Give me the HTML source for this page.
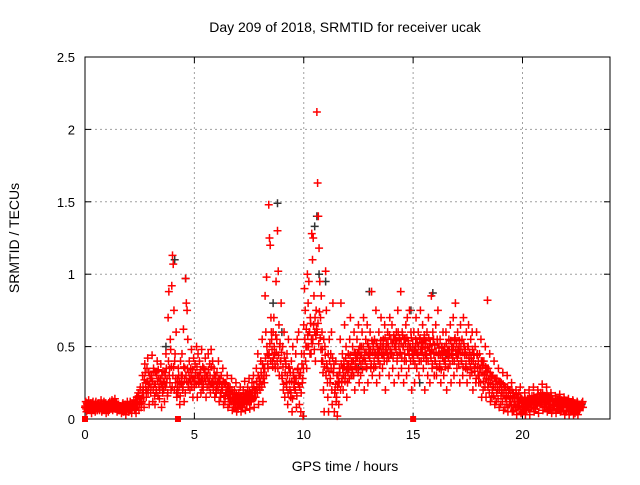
<!DOCTYPE html>
<html><head><meta charset="utf-8"><style>
body{margin:0;background:#fff;}
svg{font-family:"Liberation Sans",sans-serif;}
</style></head><body>
<svg id="chart" width="640" height="480" viewBox="0 0 640 480" xmlns="http://www.w3.org/2000/svg">
<rect width="640" height="480" fill="#fff"/>
<g id="grid"></g>
<g id="axes"></g>
<g id="marks"></g>
<text x="345" y="32" font-size="14" text-anchor="middle">Day 209 of 2018, SRMTID for receiver ucak</text>
<text x="345" y="471" font-size="14" text-anchor="middle">GPS time / hours</text>
<text x="0" y="0" font-size="14" text-anchor="middle" transform="translate(19,238) rotate(-90)">SRMTID / TECUs</text>
</svg>
<script>
const xTicks=[0,5,10,15,20];
const yTicks=[0,0.5,1,1.5,2,2.5];
const yTickLabels=["0","0.5","1","1.5","2","2.5"];
const binHours=[0,0.2,0.4,0.6,0.8,1.0,1.2,1.4,1.6,1.8,2.0,2.2,2.4,2.6,2.8,3.0,3.2,3.4,3.6,3.8,4.0,4.2,4.4,4.6,4.8,5.0,5.2,5.4,5.6,5.8,6.0,6.2,6.4,6.6,6.8,7.0,7.2,7.4,7.6,7.8,8.0,8.2,8.4,8.6,8.8,9.0,9.2,9.4,9.6,9.8,10.0,10.2,10.4,10.6,10.8,11.0,11.2,11.4,11.6,11.8,12.0,12.2,12.4,12.6,12.8,13.0,13.2,13.4,13.6,13.8,14.0,14.2,14.4,14.6,14.8,15.0,15.2,15.4,15.6,15.8,16.0,16.2,16.4,16.6,16.8,17.0,17.2,17.4,17.6,17.8,18.0,18.2,18.4,18.6,18.8,19.0,19.2,19.4,19.6,19.8,20.0,20.2,20.4,20.6,20.8,21.0,21.2,21.4,21.6,21.8,22.0,22.2,22.4,22.6];
const redValues=[
[.08,.12,.05,.10,.07,.13],[.09,.06,.11,.04,.08,.12],[.07,.10,.05,.12,.09,.06],[.08,.11,.06,.09,.13,.05],[.06,.09,.12,.07,.10,.04],
[.07,.10,.05,.09,.12,.08],[.09,.13,.06,.11,.08,.14],[.08,.11,.05,.07,.10,.06],[.06,.09,.04,.08,.11,.05],[.07,.10,.03,.06,.12,.08],
[.05,.09,.12,.07,.04,.10],[.08,.13,.06,.10,.04,.15],[.10,.18,.06,.14,.22,.08],[.12,.30,.20,.08,.38,.25],[.15,.35,.42,.22,.10,.30],
[.18,.28,.44,.12,.35,.24],[.10,.32,.20,.40,.16,.28],[.14,.26,.38,.08,.22,.33],[.20,.12,.30,.45,.25,.16],[.70,.88,.35,.55,.20,.92],
[1.13,1.07,.75,.40,.25,.60],[.15,.28,.35,.22,.10,.40],[.30,.45,.20,.62,.12,.35],[.97,.80,.75,.55,.25,.40],[.20,.35,.48,.28,.15,.42],
[.22,.38,.30,.50,.15,.45],[.25,.40,.32,.18,.48,.28],[.20,.35,.28,.42,.15,.30],[.30,.45,.22,.38,.18,.48],[.25,.40,.20,.35,.15,.30],
[.18,.32,.25,.40,.12,.28],[.15,.30,.22,.35,.10,.25],[.12,.25,.18,.30,.08,.22],[.10,.22,.15,.28,.06,.18],[.08,.20,.14,.25,.05,.16],
[.07,.18,.12,.22,.05,.15],[.08,.20,.14,.26,.06,.17],[.10,.22,.15,.28,.07,.18],[.12,.25,.18,.30,.08,.20],[.15,.35,.22,.45,.10,.28],
[.20,.40,.30,.55,.12,.35],[.25,.85,.60,.98,.45,.35],[1.48,1.25,1.20,.70,.55,.40],[.60,.70,.45,.35,.95,.55],[1.30,1.02,.65,.50,.40,.80],
[.30,.50,.20,.60,.15,.40],[.25,.45,.10,.55,.35,.20],[.15,.40,.05,.50,.30,.25],[.20,.45,.08,.55,.35,.60],[.10,.30,.05,.45,.25,.02],
[.65,.90,.75,.50,.35,1.00],[.80,.95,.60,.70,.45,1.28],[1.10,1.25,.85,.60,.40,.75],[2.12,1.63,1.40,1.18,.95,.70],[.85,.60,.40,.20,.05,.50],
[1.02,.75,.35,.15,.05,.55],[.25,.45,.60,.10,.80,.35],[.05,.20,.40,.15,.02,.30],[.10,.35,.55,.80,.25,.45],[.20,.40,.65,.30,.50,.15],
[.25,.45,.35,.55,.70,.30],[.30,.50,.40,.60,.20,.45],[.35,.55,.45,.65,.25,.50],[.30,.50,.60,.40,.70,.20],[.40,.55,.35,.65,.25,.50],
[.45,.60,.35,.88,.30,.52],[.35,.55,.45,.75,.25,.50],[.40,.60,.30,.50,.70,.45],[.35,.55,.45,.65,.20,.50],[.40,.60,.50,.30,.70,.45],
[.45,.65,.35,.55,.25,.50],[.50,.60,.40,.75,.30,.55],[.45,.88,.35,.60,.50,.25],[.40,.55,.65,.30,.70,.50],[.35,.75,.50,.60,.20,.45],
[.40,.60,.25,.50,.70,.35],[.45,.60,.30,.55,.75,.40],[.50,.65,.35,.55,.20,.45],[.40,.60,.30,.70,.50,.25],[.45,.85,.35,.60,.55,.30],
[.40,.65,.30,.55,.75,.45],[.35,.55,.25,.50,.45,.60],[.30,.50,.40,.60,.20,.45],[.35,.55,.45,.65,.25,.50],[.40,.70,.30,.55,.80,.45],
[.35,.60,.45,.50,.25,.65],[.40,.55,.30,.70,.50,.45],[.35,.60,.25,.50,.65,.40],[.30,.55,.40,.60,.20,.45],[.35,.50,.25,.60,.45,.30],
[.25,.45,.35,.55,.15,.40],[.20,.40,.30,.50,.15,.35],[.82,.35,.25,.45,.12,.30],[.15,.30,.22,.40,.10,.28],[.12,.28,.20,.35,.08,.25],
[.10,.25,.18,.32,.06,.22],[.08,.22,.15,.30,.05,.20],[.10,.20,.14,.25,.05,.18],[.06,.15,.10,.20,.03,.12],[.08,.18,.12,.22,.04,.14],
[.05,.12,.08,.18,.03,.10],[.06,.14,.10,.20,.03,.12],[.08,.16,.12,.22,.05,.14],[.07,.15,.10,.20,.04,.12],[.10,.18,.14,.24,.06,.16],
[.08,.16,.12,.22,.05,.14],[.07,.14,.10,.18,.04,.12],[.06,.12,.09,.16,.04,.10],[.07,.13,.10,.17,.05,.11],[.06,.12,.09,.15,.03,.10],
[.05,.11,.08,.14,.03,.09],[.05,.10,.07,.13,.03,.08],[.04,.09,.06,.12,.03,.08],[.06,.10,.08,.12]
];
const redValues2=[
[.09,.07,.11,.06,.10,.08],[.08,.10,.07,.09,.11,.06],[.09,.07,.11,.08,.06,.10],[.10,.07,.09,.08,.11,.07],[.08,.10,.06,.09,.11,.07],
[.09,.06,.11,.08,.10,.07],[.10,.08,.12,.09,.11,.07],[.09,.07,.10,.08,.06,.09],[.07,.08,.06,.10,.09,.07],[.08,.06,.09,.07,.10,.05],
[.07,.10,.06,.08,.11,.09],[.09,.11,.07,.12,.08,.10],[.12,.16,.10,.20,.14,.11],[.18,.22,.15,.27,.32,.20],[.20,.26,.18,.32,.24,.28],
[.22,.30,.26,.20,.33,.16],[.24,.18,.30,.26,.34,.22],[.20,.28,.24,.30,.18,.26],[.25,.32,.22,.35,.28,.18],[.40,.30,.25,.48,.36,.22],
[.30,.36,.20,.45,.28,.18],[.22,.18,.30,.26,.16,.24],[.25,.30,.22,.36,.28,.18],[.30,.26,.35,.22,.32,.28],[.26,.30,.22,.34,.28,.24],
[.28,.32,.24,.36,.30,.26],[.30,.26,.34,.28,.22,.36],[.24,.28,.32,.26,.30,.22],[.28,.34,.26,.30,.24,.36],[.24,.28,.22,.30,.26,.20],
[.22,.26,.20,.28,.24,.18],[.18,.22,.20,.26,.16,.24],[.16,.20,.18,.22,.14,.19],[.14,.17,.12,.20,.15,.11],[.12,.15,.10,.17,.13,.09],
[.11,.14,.09,.16,.12,.10],[.12,.15,.10,.18,.13,.11],[.14,.17,.12,.19,.15,.13],[.16,.20,.14,.22,.18,.15],[.20,.26,.18,.30,.22,.24],
[.26,.32,.22,.38,.28,.30],[.35,.42,.30,.50,.38,.44],[.45,.52,.40,.60,.48,.36],[.42,.50,.38,.58,.46,.40],[.35,.44,.30,.52,.40,.46],
[.28,.36,.24,.42,.32,.38],[.22,.30,.18,.36,.26,.32],[.18,.26,.14,.32,.22,.28],[.20,.28,.16,.34,.24,.30],[.22,.32,.18,.38,.28,.35],
[.45,.55,.40,.62,.50,.58],[.50,.60,.45,.66,.55,.52],[.55,.65,.48,.70,.58,.62],[.60,.66,.52,.74,.56,.48],[.40,.48,.32,.55,.36,.44],
[.30,.38,.25,.45,.33,.40],[.28,.35,.20,.42,.32,.38],[.18,.24,.12,.30,.22,.26],[.25,.32,.20,.38,.28,.35],[.30,.36,.26,.42,.34,.38],
[.32,.38,.28,.44,.36,.40],[.34,.40,.30,.46,.38,.42],[.36,.42,.32,.48,.40,.44],[.38,.44,.34,.50,.42,.46],[.40,.46,.36,.52,.44,.48],
[.42,.48,.38,.54,.46,.50],[.40,.46,.36,.52,.44,.48],[.42,.48,.38,.54,.46,.50],[.44,.50,.40,.56,.48,.52],[.45,.52,.42,.58,.48,.55],
[.46,.52,.42,.58,.50,.55],[.48,.54,.44,.60,.50,.56],[.46,.52,.42,.58,.50,.55],[.45,.52,.40,.56,.48,.54],[.44,.50,.40,.56,.47,.52],
[.42,.48,.38,.55,.46,.52],[.44,.50,.40,.56,.48,.53],[.46,.52,.42,.58,.49,.54],[.44,.50,.40,.56,.47,.52],[.42,.48,.38,.55,.45,.51],
[.40,.46,.36,.52,.44,.49],[.38,.44,.34,.50,.42,.47],[.40,.46,.36,.52,.44,.48],[.42,.48,.38,.54,.45,.50],[.44,.50,.40,.56,.47,.52],
[.42,.48,.38,.54,.46,.50],[.40,.46,.36,.52,.44,.48],[.38,.44,.34,.50,.42,.46],[.36,.42,.32,.48,.40,.44],[.33,.38,.28,.44,.36,.40],
[.30,.35,.25,.40,.32,.37],[.26,.31,.22,.36,.28,.33],[.22,.27,.18,.32,.24,.29],[.20,.24,.16,.28,.22,.26],[.18,.22,.14,.26,.20,.24],
[.16,.20,.12,.24,.18,.22],[.14,.18,.10,.22,.16,.20],[.12,.16,.09,.20,.14,.18],[.10,.14,.08,.17,.12,.15],[.09,.12,.07,.15,.11,.13],
[.08,.11,.06,.14,.10,.12],[.09,.12,.07,.15,.11,.13],[.10,.13,.08,.16,.12,.14],[.11,.14,.09,.17,.13,.15],[.12,.15,.10,.18,.14,.16],
[.11,.14,.09,.17,.13,.15],[.10,.13,.08,.16,.12,.14],[.09,.12,.07,.14,.11,.13],[.09,.12,.07,.14,.11,.13],[.08,.11,.06,.13,.10,.12],
[.08,.10,.06,.12,.09,.11],[.07,.10,.06,.12,.09,.11],[.07,.09,.05,.11,.08,.10],[.07,.09,.11,.08]
];
const grayHours=[3.7,4.1,4.6,8.6,8.8,9.0,10.5,10.6,10.7,11.0,13.0,14.9,15.3,15.9,16.5,12.5,17.2,22.7];
const grayValues=[0.5,1.1,0.97,0.8,1.49,0.6,1.33,1.4,1.0,0.95,0.88,0.75,0.25,0.87,0.45,0.35,0.4,0.1];
const squareHours=[0,4.25,15.0];

const X0=85,X1=610,Y0=419,Y1=57;
const xScale=h=>X0+h*(X1-X0)/24;
const yScale=v=>Y0-v*(Y0-Y1)/2.5;
const NS="http://www.w3.org/2000/svg";
function mk(tag,attrs,parent){const e=document.createElementNS(NS,tag);for(const k in attrs)e.setAttribute(k,attrs[k]);parent.appendChild(e);return e;}
const grid=document.getElementById('grid'),axes=document.getElementById('axes'),marks=document.getElementById('marks');
xTicks.forEach(t=>{const x=xScale(t);
 if(t>0){const g=mk('line',{x1:x,x2:x,y1:Y1,y2:Y0,stroke:'#a0a0a0','stroke-dasharray':'2,3'},grid);
 
 }
 mk('line',{x1:x,x2:x,y1:Y0,y2:Y0-6,stroke:'#000'},axes);
 mk('line',{x1:x,x2:x,y1:Y1,y2:Y1+6,stroke:'#000'},axes);
 const tx=mk('text',{x:x,y:Y0+20,'font-size':13,'text-anchor':'middle'},axes);tx.textContent=t;
 
 
});
yTicks.forEach((t,i)=>{const y=yScale(t);
 if(t>0&&t<2.5){const g=mk('line',{x1:X0,x2:X1,y1:y,y2:y,stroke:'#a0a0a0','stroke-dasharray':'2,3'},grid);
 
 }
 mk('line',{x1:X0,x2:X0+6,y1:y,y2:y,stroke:'#000'},axes);
 mk('line',{x1:X1,x2:X1-6,y1:y,y2:y,stroke:'#000'},axes);
 const tx=mk('text',{x:X0-10,y:y+5,'font-size':13,'text-anchor':'end'},axes);tx.textContent=yTickLabels[i];
 
 
});
const frame=mk('rect',{x:X0,y:Y1,width:X1-X0,height:Y0-Y1,fill:'none',stroke:'#000'},axes);


function cross(h,v,col,name){const x=xScale(h),y=yScale(v);
 const p=mk('path',{d:`M${x-4},${y}H${x+4}M${x},${y-4}V${y+4}`,stroke:col,'stroke-width':1.5,fill:'none'},marks);
 
 }
grayHours.forEach((h,i)=>cross(h,grayValues[i],'#333','gray-point'));
binHours.forEach((h,i)=>{const vs=redValues[i];vs.forEach((v,j)=>cross(h+j*0.2/vs.length,v,'#ff0000','red-point'));});
binHours.forEach((h,i)=>{const vs=redValues2[i];vs.forEach((v,j)=>cross(h+0.017+j*0.2/vs.length,v,'#ff0000','red-point'));});
squareHours.forEach(h=>{const s=mk('rect',{x:xScale(h)-3,y:Y0-3,width:6,height:6,fill:'#ff0000'},marks);
 
 });
</script>
</body></html>
